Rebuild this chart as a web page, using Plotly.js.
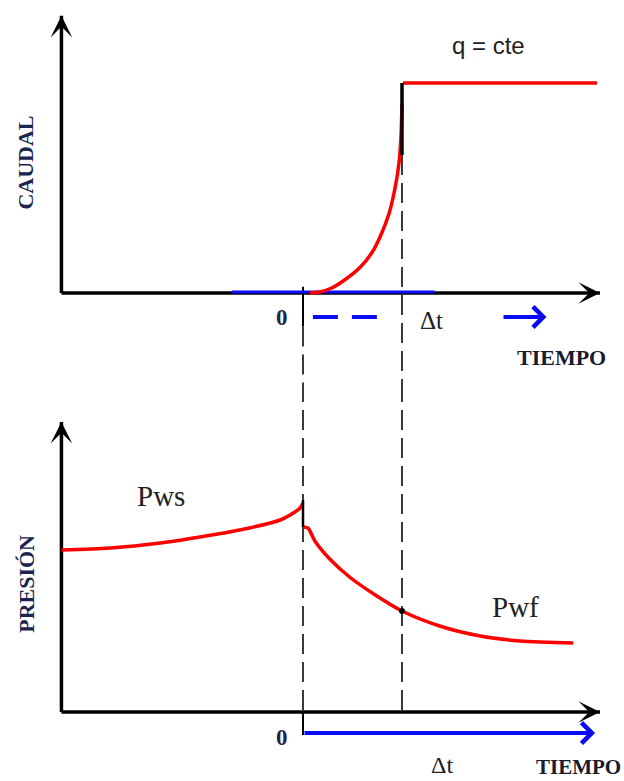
<!DOCTYPE html>
<html>
<head>
<meta charset="utf-8">
<script src="https://cdn.plot.ly/plotly-3.0.1.min.js"></script>
<style>
  html, body { margin: 0; padding: 0; background: #fff; }
  #chart { width: 624px; height: 781px; }
</style>
</head>
<body>
<div id="chart"></div>
<script>
// time axis: 0 = start of the test, 1 = Δt
var tAxis = [-2.44, 3.0];
var qAxisTop = 1.32;
var pAxisTop = 2.90;
var tMarks = [0, 1];
var markLabels = ['0', 'Δt'];

// caudal (top panel)
var tRise = [0.07, 0.17, 0.29, 0.42, 0.58, 0.70, 0.79, 0.87, 0.93, 0.97, 0.99, 1.0];
var qRise = [0, 0.005, 0.024, 0.062, 0.124, 0.195, 0.28, 0.38, 0.5, 0.62, 0.75, 0.9];
var tConst = [1.01, 2.97];
var qConst = [1, 1];
var qStep = [1, 0.657];

// presión (bottom panel)
var tWs = [-2.44, -1.95, -1.44, -1.04, -0.64, -0.23, -0.13, -0.03, 0];
var pWs = [1.62, 1.64, 1.69, 1.75, 1.82, 1.92, 1.97, 2.04, 2.09];
var tWf = [0, 0.05, 0.12, 0.27, 0.47, 0.73, 1.0, 1.38, 1.79, 2.19, 2.73];
var pWf = [1.85, 1.84, 1.71, 1.53, 1.35, 1.17, 1.01, 0.86, 0.76, 0.71, 0.69];
var pDrop = [2.12, 1.85];

// blue time markers
var tBlueOnAxis = [-0.72, 1.33];
var tBlueDash = [0.10, 0.76];
var tBlueArrowTop = [2.01, 2.46];
var tBlueArrowBottom = [0, 2.95];
var qBlue = -0.114;
var pBlue = -0.21;

var red = '#ff0000';
var blue = '#0a0af5';
var dashGray = '#3a3a3a';
var navy = '#1b2550';

function line(xa, ya, x, y, color, width, dash, shape) {
  return {
    x: x, y: y, xaxis: xa, yaxis: ya, mode: 'lines',
    line: {color: color, width: width, dash: dash || 'solid', shape: shape || 'linear', smoothing: 0.8},
    hoverinfo: 'skip', showlegend: false
  };
}

var data = [
  // top axes
  line('x', 'y', tAxis, [0, 0], '#000', 3.5),
  line('x', 'y', [tAxis[0], tAxis[0]], [0, qAxisTop], '#000', 3.5),
  // dashed guides, top
  line('x', 'y', [tMarks[0], tMarks[0]], [0.03, -0.16], '#000', 2),
  line('x', 'y', [tMarks[0], tMarks[0]], [-0.16, -0.47], dashGray, 2, '20px,8px'),
  line('x', 'y', [tMarks[1], tMarks[1]], [qStep[1], -0.47], dashGray, 2, '20px,8px'),
  // blue on axis and blue dashes
  line('x', 'y', tBlueOnAxis, [0.005, 0.005], blue, 3),
  line('x', 'y', tBlueDash, [qBlue, qBlue], blue, 4, '25px,14px'),
  // caudal curves
  line('x', 'y', tRise, qRise, red, 3.5, 'solid', 'spline'),
  line('x', 'y', tConst, qConst, red, 3.5),
  line('x', 'y', [tMarks[1], tMarks[1]], qStep, '#000', 3.5),

  // bottom axes
  line('x2', 'y2', tAxis, [0, 0], '#000', 3.5),
  line('x2', 'y2', [tAxis[0], tAxis[0]], [0, pAxisTop], '#000', 3.5),
  // dashed guides, bottom
  line('x2', 'y2', [tMarks[0], tMarks[0]], [3.3, 0], dashGray, 2, '20px,8px'),
  line('x2', 'y2', [tMarks[1], tMarks[1]], [3.3, 0], dashGray, 2, '20px,8px'),
  line('x2', 'y2', [tMarks[0], tMarks[0]], [0, pBlue - 0.02], '#000', 2),
  // presión curves
  line('x2', 'y2', tWs, pWs, red, 3.5, 'solid', 'spline'),
  line('x2', 'y2', tWf, pWf, red, 3.5, 'solid', 'spline'),
  line('x2', 'y2', [tMarks[0], tMarks[0]], pDrop, '#000', 2.5),
  {
    x: [tMarks[1]], y: [1.01], xaxis: 'x2', yaxis: 'y2', mode: 'markers',
    marker: {color: '#000', size: 6}, hoverinfo: 'skip', showlegend: false
  }
];

function head(xa, ya, x, y, ax, ay) {
  return {
    xref: xa, yref: ya, axref: xa, ayref: ya, x: x, y: y, ax: ax, ay: ay,
    text: '', showarrow: true, arrowhead: 3, arrowsize: 0.9, arrowwidth: 4, arrowcolor: '#000'
  };
}

function blueArrow(xa, ya, t0, t1, y, size) {
  return {
    xref: xa, yref: ya, axref: xa, ayref: ya, x: t1, y: y, ax: t0, ay: y,
    text: '', showarrow: true, arrowhead: 4, arrowsize: size, arrowwidth: 4, arrowcolor: blue
  };
}

function label(xa, ya, x, y, text, size, family, color, weight, angle) {
  return {
    xref: xa, yref: ya, x: x, y: y, text: text, showarrow: false,
    textangle: angle || 0,
    font: {family: family, size: size, color: color, weight: weight || 'normal'}
  };
}

var serif = 'Liberation Serif, Times New Roman, serif';
var sans = 'Liberation Sans, Arial, sans-serif';

var annotations = [
  head('x', 'y', tAxis[1], 0, tAxis[1] - 0.12, 0),
  head('x', 'y', tAxis[0], qAxisTop, tAxis[0], qAxisTop - 0.06),
  head('x2', 'y2', tAxis[1], 0, tAxis[1] - 0.12, 0),
  head('x2', 'y2', tAxis[0], pAxisTop, tAxis[0], pAxisTop - 0.12),
  blueArrow('x', 'y', tBlueArrowTop[0], tBlueArrowTop[1], qBlue, 1.0),
  blueArrow('x2', 'y2', tBlueArrowBottom[0], tBlueArrowBottom[1], pBlue, 1.0),

  label('x', 'y', 1.87, 1.18, 'q = cte', 24, sans, '#222'),
  label('x', 'y', -2.80, 0.62, 'CAUDAL', 22, serif, navy, 'bold', -90),
  label('x', 'y', -0.21, -0.119, markLabels[0], 23, serif, navy, 'bold'),
  label('x', 'y', 1.30, -0.133, markLabels[1], 25, serif, '#222'),
  label('x', 'y', 2.61, -0.305, 'TIEMPO', 22, serif, '#1a1a2e', 'bold'),

  label('x2', 'y2', -2.80, 1.28, 'PRESIÓN', 22, serif, navy, 'bold', -90),
  label('x2', 'y2', -1.43, 2.16, 'Pws', 29, serif, '#222'),
  label('x2', 'y2', 2.15, 1.05, 'Pwf', 29, serif, '#222'),
  label('x2', 'y2', -0.21, -0.25, markLabels[0], 23, serif, navy, 'bold'),
  label('x2', 'y2', 1.40, -0.53, markLabels[1], 24, serif, '#222'),
  label('x2', 'y2', 2.78, -0.55, 'TIEMPO', 21, serif, '#1a1a2e', 'bold')
];

var hiddenX = {range: [-3.0606, 3.2424], visible: false, fixedrange: true};
var layout = {
  width: 624,
  height: 781,
  margin: {l: 0, r: 0, t: 0, b: 0},
  paper_bgcolor: '#fff',
  plot_bgcolor: '#fff',
  showlegend: false,
  xaxis: Object.assign({anchor: 'y'}, hiddenX),
  xaxis2: Object.assign({anchor: 'y2'}, hiddenX),
  yaxis: {domain: [0.50064, 1], range: [-0.4619, 1.3952], visible: false, fixedrange: true},
  yaxis2: {domain: [0, 0.50064], range: [-0.69, 3.22], visible: false, fixedrange: true},
  annotations: annotations
};

Plotly.newPlot('chart', data, layout, {displayModeBar: false, staticPlot: true});
</script>
</body>
</html>
